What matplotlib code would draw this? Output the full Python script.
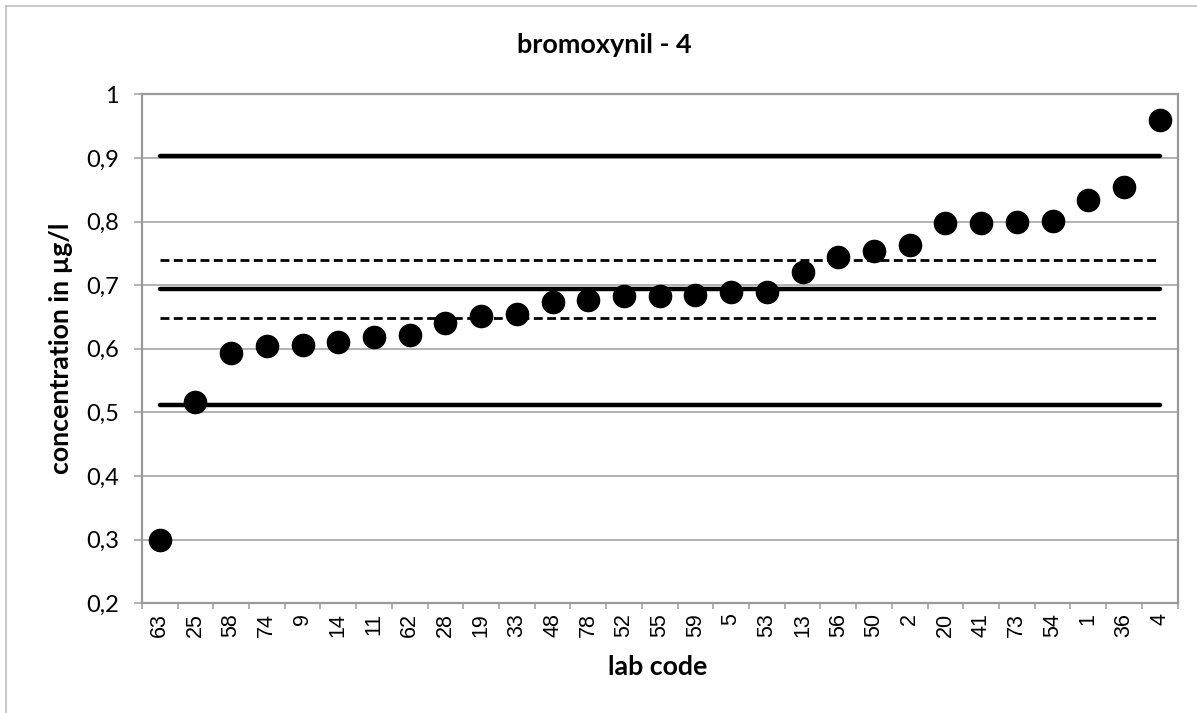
import matplotlib
matplotlib.use("Agg")
import matplotlib.pyplot as plt
from matplotlib.lines import Line2D

labs = ["63", "25", "58", "74", "9", "14", "11", "62", "28", "19", "33", "48", "78", "52",
        "55", "59", "5", "53", "13", "56", "50", "2", "20", "41", "73", "54", "1", "36", "4"]
values = [0.299, 0.517, 0.594, 0.604, 0.606, 0.610, 0.618, 0.622, 0.640, 0.651, 0.655,
          0.674, 0.677, 0.683, 0.683, 0.685, 0.689, 0.689, 0.720, 0.744, 0.754, 0.763,
          0.798, 0.798, 0.800, 0.801, 0.834, 0.855, 0.960]
assigned = 0.694
upper_tol = 0.903
lower_tol = 0.512
upper_unc = 0.740
lower_unc = 0.648

yticks = [0.2, 0.3, 0.4, 0.5, 0.6, 0.7, 0.8, 0.9, 1.0]
ytick_labels = ["0,2", "0,3", "0,4", "0,5", "0,6", "0,7", "0,8", "0,9", "1"]

W, H = 1197, 713
fig = plt.figure(figsize=(W / 100, H / 100), dpi=100)
renderer = fig.canvas.get_renderer()


def fit_size(s, target, family, weight="normal", base=16.0):
    t = fig.text(0, 0, s, fontfamily=family, fontweight=weight, fontsize=base)
    w = t.get_window_extent(renderer).width
    t.remove()
    return base * target / w


L, R, T, B = 141.8, 1177.5, 94.3, 603.2
ax = fig.add_axes([L / W, 1 - B / H, (R - L) / W, (B - T) / H])

grid_c = "#a6a6a6"
n = len(labs)
x = list(range(n))

for yv in yticks:
    ax.axhline(yv, color=grid_c, lw=1.2, zorder=1)

ax.plot([0, n - 1], [upper_tol, upper_tol], color="black", lw=3.2, solid_capstyle="round", zorder=2)
ax.plot([0, n - 1], [assigned, assigned], color="black", lw=3.2, solid_capstyle="round", zorder=2)
ax.plot([0, n - 1], [lower_tol, lower_tol], color="black", lw=3.2, solid_capstyle="round", zorder=2)
ax.plot([0, n - 1], [upper_unc, upper_unc], color="black", lw=2.0, dashes=(3.2, 1.6), zorder=2)
ax.plot([0, n - 1], [lower_unc, lower_unc], color="black", lw=2.0, dashes=(3.2, 1.6), zorder=2)

ax.plot(x, values, linestyle="none", marker="o", markersize=16, color="black", zorder=3)

ytick_fs = fit_size("0,8", 33, "Lato")
xtick_fs = fit_size("48", 24, "Liberation Sans")
title_fs = fit_size("bromoxynil - 4", 175, "Lato", "bold")
xlab_fs = fit_size("lab code", 100, "Lato", "bold")
ylab_fs = fit_size("concentration in µg/l", 253, "Lato", "bold")

ax.set_xlim(-0.5, n - 0.5)
ax.set_ylim(0.2, 1.0)
ax.set_yticks(yticks)
ax.set_yticklabels(ytick_labels, fontfamily="Lato", fontsize=ytick_fs)
ax.set_xticks([i - 0.5 for i in range(n + 1)])
ax.set_xticklabels([])
ax.set_xticks(x, minor=True)
ax.set_xticklabels(labs, minor=True, rotation=90, fontfamily="Liberation Sans", fontsize=xtick_fs)
ax.tick_params(axis="x", which="minor", length=0, pad=7)
ax.tick_params(axis="x", which="major", length=4.5, color=grid_c, width=1.2, direction="out")
ax.tick_params(axis="y", length=5.5, color=grid_c, width=1.2, direction="out", pad=11)

for s in ["top", "right", "left", "bottom"]:
    ax.spines[s].set_color("#999999")
    ax.spines[s].set_linewidth(1.6)

fig.text(604.5 / W, 1 - 53 / H, "bromoxynil - 4", fontfamily="Lato", fontweight="bold",
         fontsize=title_fs, ha="center", va="baseline")
fig.text(658 / W, 1 - 675 / H, "lab code", fontfamily="Lato", fontweight="bold",
         fontsize=xlab_fs, ha="center", va="baseline")
fig.text(61 / W, 1 - 348.5 / H, "concentration in µg/l", fontfamily="Lato",
         fontweight="bold", fontsize=ylab_fs, ha="center", va="center", rotation=90)

fig.add_artist(Line2D([6 / W, 6 / W], [0, 1 - 6 / H], color="#bfbfbf", lw=1.2))
fig.add_artist(Line2D([6 / W, 1], [1 - 6 / H, 1 - 6 / H], color="#bfbfbf", lw=1.2))

fig.savefig("out.png", dpi=100)
